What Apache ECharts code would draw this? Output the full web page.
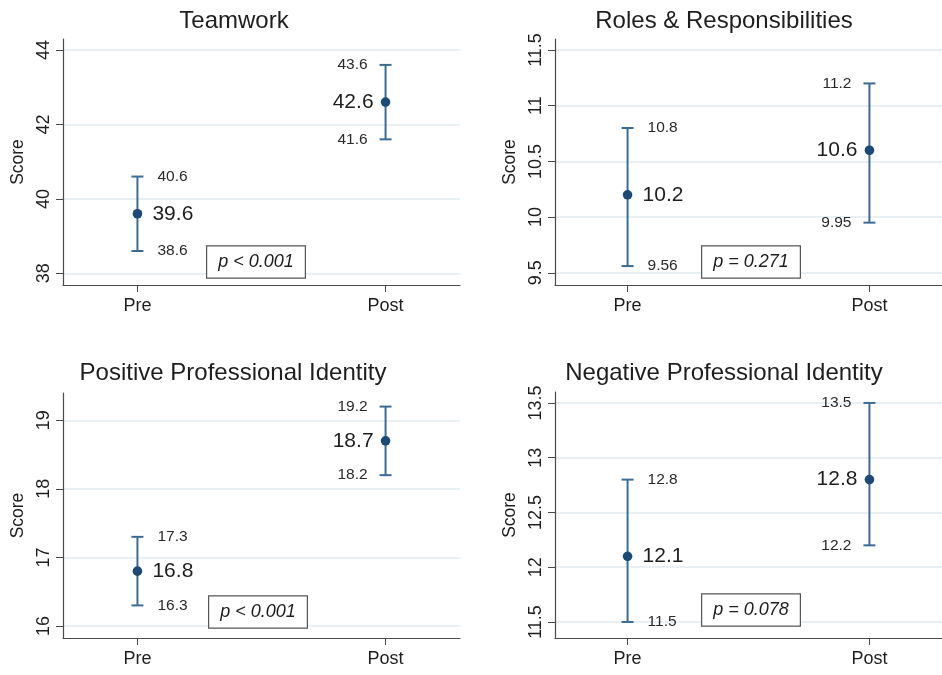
<!DOCTYPE html>
<html>
<head>
<meta charset="utf-8">
<script src="https://cdn.jsdelivr.net/npm/echarts@6/dist/echarts.min.js"></script>
<style>
  html, body { margin: 0; padding: 0; background: #fff; }
  #chart { width: 942px; height: 675px; }
</style>
</head>
<body>
<div id="chart"></div>
<script>
// Time points on the x axis
const categories = ['Pre', 'Post'];

// Panel titles
const panelTitles = ['Teamwork', 'Roles & Responsibilities', 'Positive Professional Identity', 'Negative Professional Identity'];

// Means with 95% confidence limits, Pre then Post
const teamworkMean = [39.6, 42.6];
const teamworkLow = [38.6, 41.6];
const teamworkHigh = [40.6, 43.6];

const rolesMean = [10.2, 10.6];
const rolesLow = [9.56, 9.95];
const rolesHigh = [10.8, 11.2];

const positiveMean = [16.8, 18.7];
const positiveLow = [16.3, 18.2];
const positiveHigh = [17.3, 19.2];

const negativeMean = [12.1, 12.8];
const negativeLow = [11.5, 12.2];
const negativeHigh = [12.8, 13.5];

// Significance annotations
const pValues = ['p < 0.001', 'p = 0.271', 'p < 0.001', 'p = 0.078'];

// Y axis tick labels per panel
const teamworkTicks = [38, 40, 42, 44];
const rolesTicks = [9.5, 10, 10.5, 11, 11.5];
const positiveTicks = [16, 17, 18, 19];
const negativeTicks = [11.5, 12, 12.5, 13, 13.5];

const FONT = "'Liberation Sans', Arial, Helvetica, sans-serif";
const BAR_COLOR = '#3b6c97';
const DOT_COLOR = '#1b4a76';
const AXIS_COLOR = '#4a4a4a';
const GRID_COLOR = '#e1ebef';
const TEXT_COLOR = '#1e1e1e';

const panels = [
  { mean: teamworkMean, low: teamworkLow, high: teamworkHigh, ticks: teamworkTicks,
    grid: { left: 63, top: 39, width: 397, height: 246 }, yMin: 37.686, yMax: 44.296,
    title: [234, 21], pBox: [256, 262] },
  { mean: rolesMean, low: rolesLow, high: rolesHigh, ticks: rolesTicks,
    grid: { left: 555, top: 39, width: 396, height: 246 }, yMin: 9.39, yMax: 11.599,
    title: [724, 21], pBox: [751, 262] },
  { mean: positiveMean, low: positiveLow, high: positiveHigh, ticks: positiveTicks,
    grid: { left: 63, top: 393, width: 397, height: 245 }, yMin: 15.825, yMax: 19.398,
    title: [233, 373], pBox: [258, 612] },
  { mean: negativeMean, low: negativeLow, high: negativeHigh, ticks: negativeTicks,
    grid: { left: 555, top: 392, width: 396, height: 246 }, yMin: 11.354, yMax: 13.6,
    title: [724, 373], pBox: [751, 610] }
];

const grids = [], xAxes = [], yAxes = [], series = [], graphics = [];

panels.forEach((p, i) => {
  grids.push(Object.assign({ containLabel: false }, p.grid));

  xAxes.push({
    type: 'value', gridIndex: i, min: 0.7, max: 2.3,
    axisLine: { show: true, lineStyle: { color: AXIS_COLOR, width: 1.2 } },
    axisTick: { show: true, length: 7, customValues: [1, 2], lineStyle: { color: AXIS_COLOR } },
    axisLabel: {
      customValues: [1, 2], margin: 12,
      formatter: v => categories[Math.round(v) - 1] || '',
      color: TEXT_COLOR, fontFamily: FONT, fontSize: 18
    },
    splitLine: { show: false }
  });

  yAxes.push({
    type: 'value', gridIndex: i, min: p.yMin, max: p.yMax,
    name: 'Score', nameLocation: 'middle', nameGap: 36, nameRotate: 90,
    nameTextStyle: { color: TEXT_COLOR, fontFamily: FONT, fontSize: 17.5 },
    axisLine: { show: true, lineStyle: { color: AXIS_COLOR, width: 1.2 } },
    axisTick: { show: true, length: 7, customValues: p.ticks, lineStyle: { color: AXIS_COLOR } },
    axisLabel: {
      customValues: p.ticks, rotate: 90, margin: 10,
      color: TEXT_COLOR, fontFamily: FONT, fontSize: 18
    },
    splitLine: { show: true, lineStyle: { color: GRID_COLOR, width: 1.6 } }
  });

  const data = categories.map((c, k) => [k + 1, p.mean[k], p.low[k], p.high[k]]);

  series.push({
    type: 'custom', xAxisIndex: i, yAxisIndex: i, data: data, clip: false,
    renderItem: (params, api) => {
      const x = api.value(0);
      const m = api.value(1), lo = api.value(2), hi = api.value(3);
      const pm = api.coord([x, m]);
      const pl = api.coord([x, lo]);
      const ph = api.coord([x, hi]);
      const right = params.dataIndex === 0;
      const dir = right ? 1 : -1;
      const align = right ? 'left' : 'right';
      const cap = 6;
      const smallStyle = { fill: '#2a2a2a', font: '15.5px ' + FONT, align: align, verticalAlign: 'middle' };
      return {
        type: 'group',
        children: [
          { type: 'line', shape: { x1: pl[0], y1: pl[1], x2: ph[0], y2: ph[1] },
            style: { stroke: BAR_COLOR, lineWidth: 2 } },
          { type: 'line', shape: { x1: ph[0] - cap, y1: ph[1], x2: ph[0] + cap, y2: ph[1] },
            style: { stroke: BAR_COLOR, lineWidth: 2 } },
          { type: 'line', shape: { x1: pl[0] - cap, y1: pl[1], x2: pl[0] + cap, y2: pl[1] },
            style: { stroke: BAR_COLOR, lineWidth: 2 } },
          { type: 'circle', shape: { cx: pm[0], cy: pm[1], r: 4.8 },
            style: { fill: DOT_COLOR } },
          { type: 'text', x: pm[0] + dir * (right ? 15 : 12), y: pm[1],
            style: { text: String(m), fill: TEXT_COLOR, font: '21px ' + FONT, align: align, verticalAlign: 'middle' } },
          { type: 'text', x: ph[0] + dir * (right ? 20 : 18), y: ph[1],
            style: Object.assign({ text: String(hi) }, smallStyle) },
          { type: 'text', x: pl[0] + dir * (right ? 20 : 18), y: pl[1],
            style: Object.assign({ text: String(lo) }, smallStyle) }
        ]
      };
    }
  });

  graphics.push({
    type: 'text', x: p.title[0], y: p.title[1], z: 100,
    style: { text: panelTitles[i], fill: TEXT_COLOR, font: '24px ' + FONT, align: 'center', verticalAlign: 'middle' }
  });
  graphics.push({
    type: 'text', x: p.pBox[0], y: p.pBox[1], z: 100,
    style: {
      text: pValues[i], fill: TEXT_COLOR, font: 'italic 18px ' + FONT,
      align: 'center', verticalAlign: 'middle',
      backgroundColor: '#fff', borderColor: '#555', borderWidth: 1.2,
      padding: [7, 11, 6, 11]
    }
  });
});

const chart = echarts.init(document.getElementById('chart'), null, { renderer: 'canvas' });
chart.setOption({
  animation: false,
  backgroundColor: '#fff',
  grid: grids,
  xAxis: xAxes,
  yAxis: yAxes,
  series: series,
  graphic: graphics
});
</script>
</body>
</html>
